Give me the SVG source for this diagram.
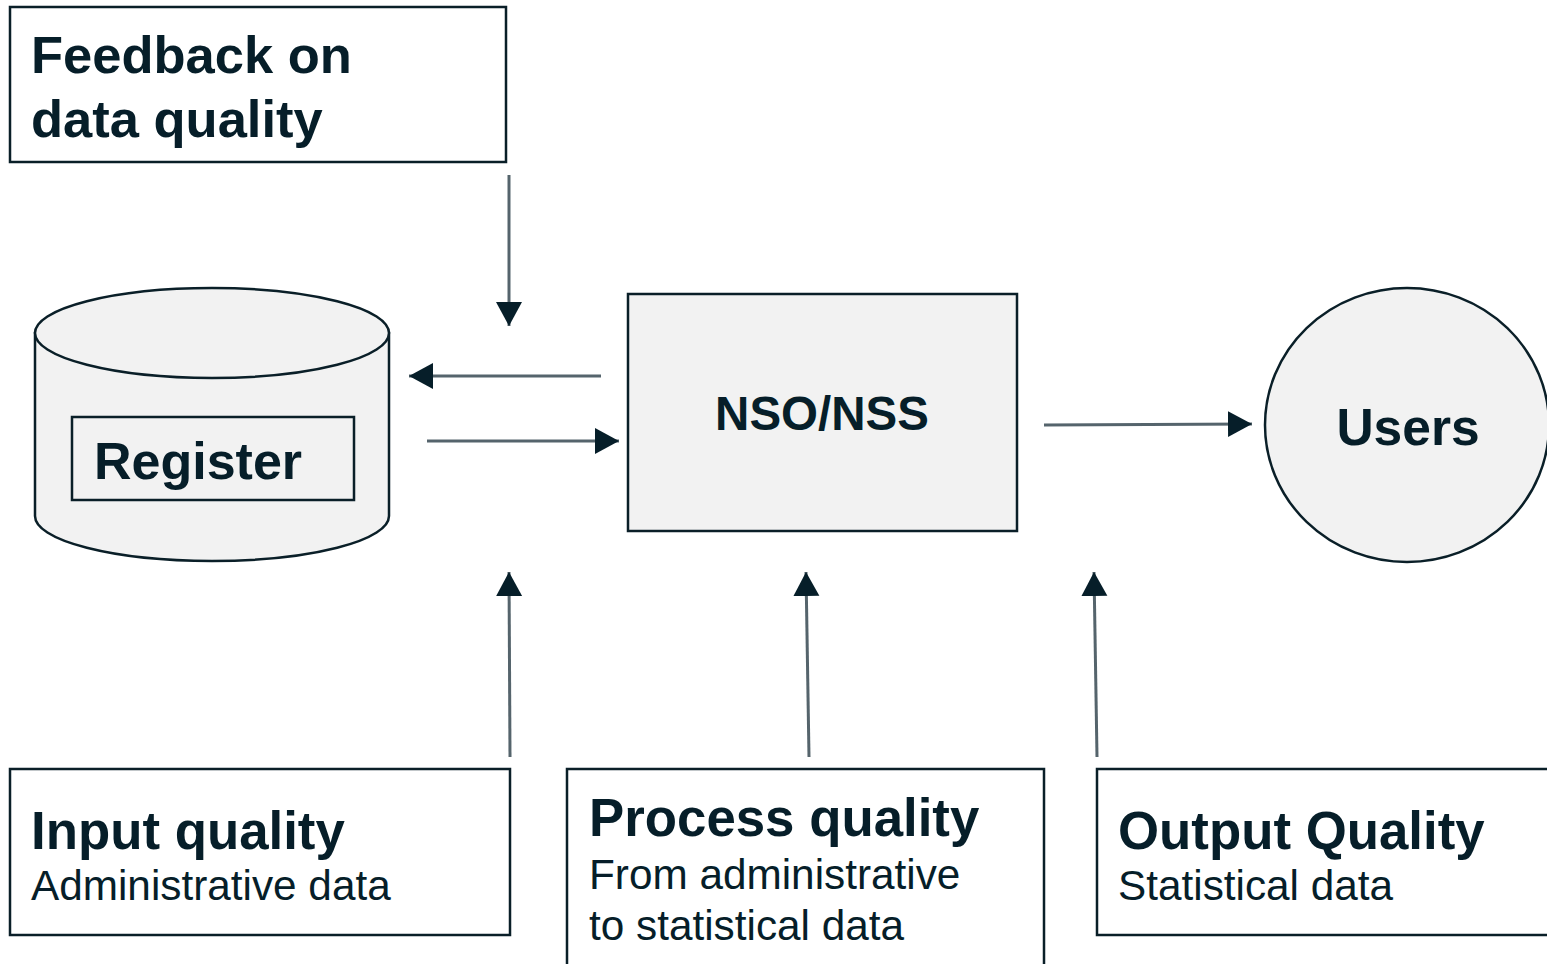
<svg xmlns="http://www.w3.org/2000/svg" width="1547" height="964" viewBox="0 0 1547 964">
  <style>
    .box { fill: #ffffff; stroke: #0a1f28; stroke-width: 2.5; }
    .shape { fill: #f2f2f2; stroke: #0a1f28; stroke-width: 2.5; }
    .bold { font-family: "Liberation Sans", Arial, sans-serif; font-weight: bold; fill: #061e29; }
    .reg { font-family: "Liberation Sans", Arial, sans-serif; fill: #061e29; }
    .link { stroke: #55646c; stroke-width: 3; fill: none; marker-end: url(#head); }
  </style>
  <defs>
    <marker id="head" markerUnits="userSpaceOnUse" markerWidth="26" markerHeight="28" refX="24" refY="13" orient="auto">
      <path d="M0,0 L24,13 L0,26 Z" fill="#061e29"/>
    </marker>
  </defs>

  <rect width="1547" height="964" fill="#ffffff"/>

  <!-- Feedback box -->
  <g id="feedback">
    <rect class="box" x="10" y="7" width="496" height="155"/>
    <text class="bold" font-size="52.5" x="31" y="73">Feedback on</text>
    <text class="bold" font-size="52.5" x="31" y="137">data quality</text>
  </g>

  <!-- Register database -->
  <g id="register">
    <path class="shape" d="M35,333 L35,516 A177,45 0 0 0 389,516 L389,333 Z"/>
    <ellipse class="shape" cx="212" cy="333" rx="177" ry="45"/>
    <rect class="shape" x="72" y="417" width="282" height="83"/>
    <text class="bold" font-size="52" x="94" y="479">Register</text>
  </g>

  <!-- NSO/NSS -->
  <g id="nso">
    <rect class="shape" x="628" y="294" width="389" height="237"/>
    <text class="bold" font-size="47.5" x="822" y="430" text-anchor="middle">NSO/NSS</text>
  </g>

  <!-- Users -->
  <g id="users">
    <ellipse class="shape" cx="1407" cy="425" rx="142" ry="137"/>
    <text class="bold" font-size="51.5" x="1408" y="445" text-anchor="middle">Users</text>
  </g>

  <!-- Quality boxes -->
  <g id="input-quality">
    <rect class="box" x="10" y="769" width="500" height="166"/>
    <text class="bold" font-size="52.8" x="31" y="849">Input quality</text>
    <text class="reg" font-size="42.3" x="31" y="900">Administrative data</text>
  </g>

  <g id="process-quality">
    <rect class="box" x="567" y="769" width="477" height="210"/>
    <text class="bold" font-size="52.8" x="589" y="836">Process quality</text>
    <text class="reg" font-size="42.3" x="589" y="889">From administrative</text>
    <text class="reg" font-size="42.3" x="589" y="940">to statistical data</text>
  </g>

  <g id="output-quality">
    <rect class="box" x="1097" y="769" width="470" height="166"/>
    <text class="bold" font-size="52.8" x="1118" y="849">Output Quality</text>
    <text class="reg" font-size="42.3" x="1118" y="900">Statistical data</text>
  </g>

  <!-- Connectors -->
  <g id="connectors">
    <line class="link" x1="509" y1="175" x2="509" y2="326"/>
    <line class="link" x1="601" y1="376" x2="409" y2="376"/>
    <line class="link" x1="427" y1="441" x2="619" y2="441"/>
    <line class="link" x1="1044" y1="425" x2="1252" y2="424"/>
    <line class="link" x1="510" y1="757" x2="509" y2="572"/>
    <line class="link" x1="809" y1="757" x2="806" y2="572"/>
    <line class="link" x1="1097" y1="757" x2="1094" y2="572"/>
  </g>
</svg>
